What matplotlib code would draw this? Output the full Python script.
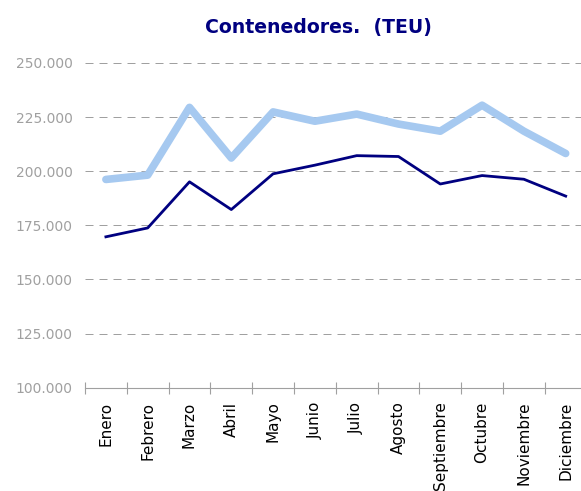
import matplotlib.pyplot as plt
from matplotlib.ticker import FuncFormatter

# data
meses = ["Enero", "Febrero", "Marzo", "Abril", "Mayo", "Junio", "Julio",
         "Agosto", "Septiembre", "Octubre", "Noviembre", "Diciembre"]
serie_clara = [196200, 198200, 229500, 206100, 227400, 223100, 226400,
               221800, 218500, 230500, 218500, 208200]
serie_oscura = [169700, 173800, 195100, 182300, 198800, 202800, 207200,
                206800, 194100, 198000, 196300, 188500]
y_ticks = [100000, 125000, 150000, 175000, 200000, 225000, 250000]

NAVY, LIGHT, GREY = "#000080", "#a6c9f0", "#a0a0a0"

fig = plt.figure(figsize=(5.81, 4.91), dpi=100)
ax = fig.add_axes([0.1463, 0.2104, 0.8633, 0.6613])

x = range(len(meses))
ax.plot(x, serie_clara, color=LIGHT, lw=5.5, solid_capstyle="round", zorder=3)
ax.plot(x, serie_oscura, color=NAVY, lw=2, zorder=4)

ax.set_xlim(-0.5, 11.5)
ax.set_ylim(100000, 250000)
ax.set_yticks(y_ticks)
ax.yaxis.set_major_formatter(FuncFormatter(lambda v, p: f"{v:,.0f}".replace(",", ".")))
ax.tick_params(axis="y", length=0, pad=9, labelsize=10, labelcolor=GREY)
ax.grid(axis="y", color=GREY, lw=0.72, linestyle=(0, (8, 6)))

ax.set_xticks(list(x))
ax.set_xticklabels(meses, rotation=90, fontsize=11)
ax.set_xticks([k - 0.5 for k in range(13)], minor=True)
ax.tick_params(axis="x", which="major", length=0, pad=10)
ax.tick_params(axis="x", which="minor", length=9, width=0.8,
               direction="inout", color=GREY)

for s in ["left", "right", "top"]:
    ax.spines[s].set_visible(False)
ax.spines["bottom"].set_color(GREY)
ax.spines["bottom"].set_clip_on(False)

fig.text(0.548, 0.943, "Contenedores.  (TEU)", ha="center", va="center",
         fontsize=13.6, fontweight="bold", color=NAVY)

fig.savefig("out.png", dpi=100)
